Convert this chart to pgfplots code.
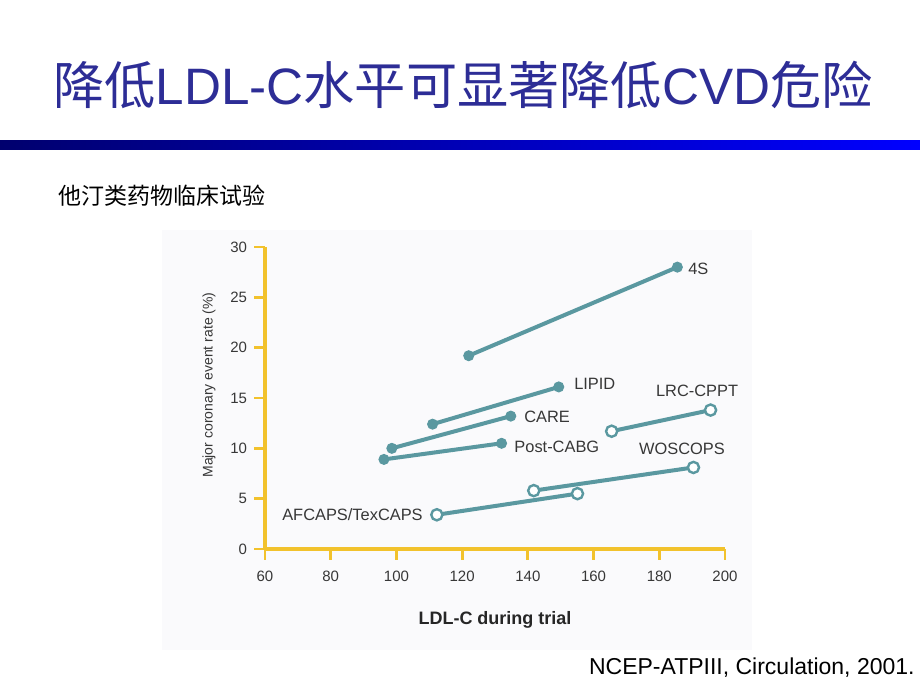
\documentclass[border=0pt]{standalone}
\usepackage{pgfplots}
\pgfplotsset{compat=1.18}
\usepackage{fontspec}
\setmainfont{Liberation Sans}
\newfontfamily\cjk{Noto Sans CJK SC}
\definecolor{titleblue}{RGB}{45,45,150}
\definecolor{teal2}{RGB}{90,152,160}
\definecolor{gold}{RGB}{242,194,44}
\definecolor{bgdot}{RGB}{250,250,252}
\definecolor{tickgray}{RGB}{55,55,55}
\begin{document}
\begin{tikzpicture}[x=1pt,y=1pt]
\useasboundingbox (0,0) rectangle (460,345);
\fill[white] (0,0) rectangle (460,345);
% title
\node[anchor=base,inner sep=0,text=titleblue,font=\fontsize{25.6}{30}\selectfont] at (231.5,292.5)
  {{\cjk 降低}LDL-C{\cjk 水平可显著降低}CVD{\cjk 危险}};
% gradient bar
\shade[left color={rgb,255:red,0;green,0;blue,110}, right color={rgb,255:red,0;green,0;blue,255}] (0,270) rectangle (460,274.5);
% subtitle
\node[anchor=base west,inner sep=0,font=\fontsize{11.5}{14}\selectfont] at (29,242.5) {\cjk 他汀类药物临床试验};
% citation
\node[anchor=base east,inner sep=0,font=\fontsize{11.5}{14}\selectfont] at (457.5,8) {NCEP-ATPIII, Circulation, 2001.};
% chart background
\fill[bgdot] (81,20) rectangle (376,230);
% y label
\node[rotate=90,font=\fontsize{7}{8}\selectfont,text=tickgray] at (104.5,152.5) {Major coronary event rate (\%)};
% x label
\node[font=\fontsize{9}{11}\selectfont\bfseries,text=black!85] at (247.5,35) {LDL-C during trial};
\begin{axis}[
  at={(132.5pt,70.5pt)}, anchor=south west,
  scale only axis, width=230pt, height=151pt,
  xmin=60, xmax=200, ymin=0, ymax=30,
  axis lines=left,
  axis line style={-, draw=gold, line width=1.6pt},
  xtick={60,80,...,200}, ytick={0,5,...,30},
  tick align=outside, major tick length=5.5pt,
  tick style={draw=gold, line width=1.4pt},
  ticklabel style={font=\fontsize{7.5}{8}\selectfont, text=tickgray},
  /pgf/number format/assume math mode=true,
  xticklabel style={yshift=-2pt},
  clip=false,
  every axis plot/.append style={draw=teal2, line width=2pt},
]
\addplot[mark=*, mark size=2.5pt, mark options={fill=teal2,draw=teal2,line width=0.5pt}] coordinates {(122,19.2) (185.5,28.0)};
\addplot[mark=*, mark size=2.5pt, mark options={fill=teal2,draw=teal2,line width=0.5pt}] coordinates {(111,12.4) (149.4,16.1)};
\addplot[mark=*, mark size=2.5pt, mark options={fill=teal2,draw=teal2,line width=0.5pt}] coordinates {(98.6,10.0) (134.8,13.2)};
\addplot[mark=*, mark size=2.5pt, mark options={fill=teal2,draw=teal2,line width=0.5pt}] coordinates {(96.2,8.9) (132,10.5)};
\addplot[mark=*, mark size=2.8pt, mark options={fill=white,draw=teal2,line width=1.2pt}] coordinates {(165.5,11.7) (195.6,13.8)};
\addplot[mark=*, mark size=2.8pt, mark options={fill=white,draw=teal2,line width=1.2pt}] coordinates {(141.8,5.8) (190.4,8.1)};
\addplot[mark=*, mark size=2.8pt, mark options={fill=white,draw=teal2,line width=1.2pt}] coordinates {(112.3,3.4) (155.1,5.5)};
\begin{scope}[every node/.style={font=\fontsize{8.2}{10}\selectfont, text=tickgray, inner sep=0}]
\node[anchor=west] at (axis cs:188.7,27.8) {4S};
\node[anchor=west] at (axis cs:154,16.4) {LIPID};
\node[anchor=west] at (axis cs:138.8,13.1) {CARE};
\node[anchor=west] at (axis cs:135.8,10.1) {Post-CABG};
\node at (axis cs:191.5,15.7) {LRC-CPPT};
\node at (axis cs:186.9,9.9) {WOSCOPS};
\node[anchor=east] at (axis cs:108.1,3.4) {AFCAPS/TexCAPS};
\end{scope}
\end{axis}
\end{tikzpicture}
\end{document}
